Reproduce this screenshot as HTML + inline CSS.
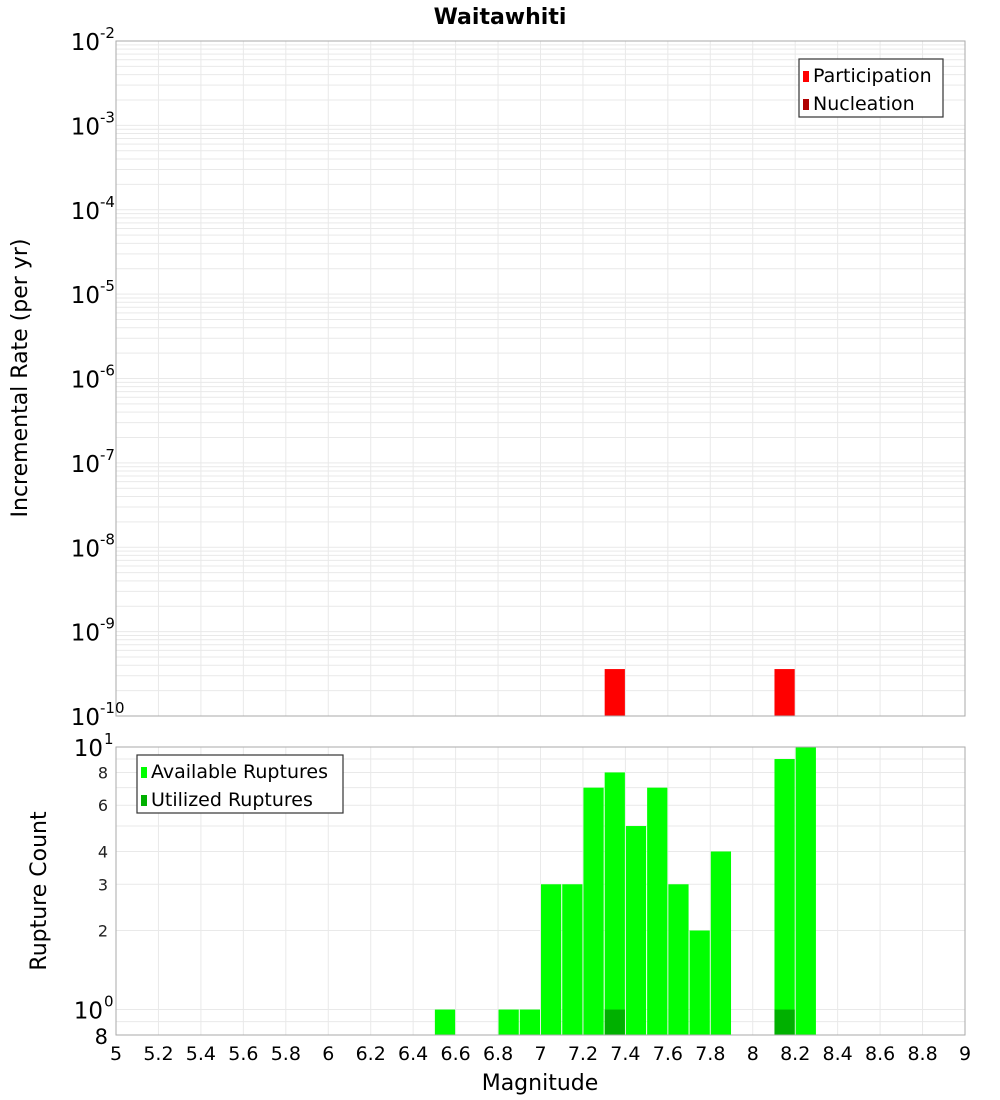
<!DOCTYPE html>
<html><head><meta charset="utf-8"><style>
body{margin:0;background:#fff;}
svg{display:block;font-family:"DejaVu Sans","Liberation Sans",sans-serif;}
</style></head><body>
<svg id="chart" width="1000" height="1100" viewBox="0 0 1000 1100">
<text x="500" y="24" text-anchor="middle" font-size="22" font-weight="bold">Waitawhiti</text>
<g id="topPlot"></g>
<g id="botPlot"></g>
<text transform="translate(27,378) rotate(-90)" text-anchor="middle" font-size="22">Incremental Rate (per yr)</text>
<text transform="translate(46,891) rotate(-90)" text-anchor="middle" font-size="22">Rupture Count</text>
<text x="540" y="1090" text-anchor="middle" font-size="22">Magnitude</text>
</svg>
<script>
const rateMags = [7.35, 8.15];
const participationRates = [3.6e-10, 3.6e-10];
const countMags = [6.55, 6.85, 6.95, 7.05, 7.15, 7.25, 7.35, 7.45, 7.55, 7.65, 7.75, 7.85, 8.15, 8.25];
const availableCounts = [1, 1, 1, 3, 3, 7, 8, 5, 7, 3, 2, 4, 9, 10];
const utilizedMags = [7.35, 8.15];
const utilizedCounts = [1, 1];
const xTicks = ["5","5.2","5.4","5.6","5.8","6","6.2","6.4","6.6","6.8","7","7.2","7.4","7.6","7.8","8","8.2","8.4","8.6","8.8","9"];
const topExps = [-2,-3,-4,-5,-6,-7,-8,-9,-10];
const botMinorTicks = ["8","6","4","3","2"];

const NS="http://www.w3.org/2000/svg";
const L=116,R=965,T1=41,B1=716,T2=747,B2=1035;
const x=v=>L+(v-5)/4*(R-L);
const y1=v=>B1-(Math.log10(v)+10)/8*(B1-T1);
const lo=Math.log10(0.8),hi=1;
const y2=v=>B2-(Math.log10(v)-lo)/(hi-lo)*(B2-T2);
function el(p,tag,a){const e=document.createElementNS(NS,tag);for(const k in a)e.setAttribute(k,a[k]);p.appendChild(e);return e;}
const topG=document.getElementById('topPlot'),botG=document.getElementById('botPlot');

for(let d=-10;d<-2;d++)for(let m=1;m<10;m++){const yy=y1(m*Math.pow(10,d));
 const g=el(topG,'line',{x1:L,x2:R,y1:yy,y2:yy,stroke:'#e9e9e9','stroke-width':1});
 
 }
[0.8,0.9,1,2,3,4,5,6,7,8,9].forEach(v=>{const yy=y2(v);
 const g=el(botG,'line',{x1:L,x2:R,y1:yy,y2:yy,stroke:'#e9e9e9','stroke-width':1});
 
 });
xTicks.forEach(t=>{const xx=x(+t);
 [[topG,T1,B1],[botG,T2,B2]].forEach(([p,a,b])=>{const g=el(p,'line',{x1:xx,x2:xx,y1:a,y2:b,stroke:'#e9e9e9','stroke-width':1});
 
 });});

const bw=(R-L)/40;
rateMags.forEach((m,i)=>{const yy=y1(participationRates[i]);
 const r=el(topG,'rect',{x:x(m)-bw/2+0.5,y:yy,width:bw-1,height:B1-yy,fill:'#ff0000'});
 
 });
countMags.forEach((m,i)=>{const yy=y2(availableCounts[i]);
 const r=el(botG,'rect',{x:x(m)-bw/2+0.5,y:yy,width:bw-1,height:B2-yy,fill:'#00ff00'});
 
 });
utilizedMags.forEach((m,i)=>{const yy=y2(utilizedCounts[i]);
 const r=el(botG,'rect',{x:x(m)-bw/2+0.5,y:yy,width:bw-1,height:B2-yy,fill:'#00b000'});
 
 });

[[topG,T1,B1],[botG,T2,B2]].forEach(([p,a,b])=>{const f=el(p,'rect',{x:L,y:a,width:R-L,height:b-a,fill:'none',stroke:'#aaa','stroke-width':1});
 
 });

topExps.forEach(e=>{const yy=y1(Math.pow(10,e));
 const t=el(topG,'text',{x:100,y:yy+9,'text-anchor':'end','font-size':23});
 t.textContent='10';
 
 
 const s=el(topG,'text',{x:100,y:yy-3,'font-size':15});
 s.textContent=String(e);
 
 });
[[10,'1'],[1,'0']].forEach(([v,e])=>{const yy=y2(v);
 const t=el(botG,'text',{x:103,y:yy+9,'text-anchor':'end','font-size':23});
 t.textContent='10';
 
 
 const s=el(botG,'text',{x:104,y:yy-3,'font-size':15});
 s.textContent=e;
 
 });
botMinorTicks.forEach(v=>{const t=el(botG,'text',{x:108,y:y2(+v)+6,'text-anchor':'end','font-size':16,fill:'#222'});
 t.textContent=v;
 
 });
{const t=el(botG,'text',{x:108,y:B2+9,'text-anchor':'end','font-size':21});
 t.textContent='8';
 
 }
xTicks.forEach(tk=>{const t=el(botG,'text',{x:x(+tk),y:1060,'text-anchor':'middle','font-size':19});
 t.textContent=tk;
 
 });

function legend(p,lx,ly,w,items){const g=el(p,'g',{});
 
 
 el(g,'rect',{x:lx,y:ly,width:w,height:58,fill:'#fff',stroke:'#333','stroke-width':1.2});
 items.forEach(([c,label],i)=>{const e=el(g,'g',{});
  
  
  el(e,'rect',{x:lx+4,y:ly+12+i*28,width:6,height:11,fill:c});
  const t=el(e,'text',{x:lx+14,y:ly+23+i*28,'font-size':19});t.textContent=label;});}
legend(topG,799,59,144,[['#ff0000','Participation'],['#b00000','Nucleation']]);
legend(botG,137,755,206,[['#00ff00','Available Ruptures'],['#00b000','Utilized Ruptures']]);
</script>
</body></html>
